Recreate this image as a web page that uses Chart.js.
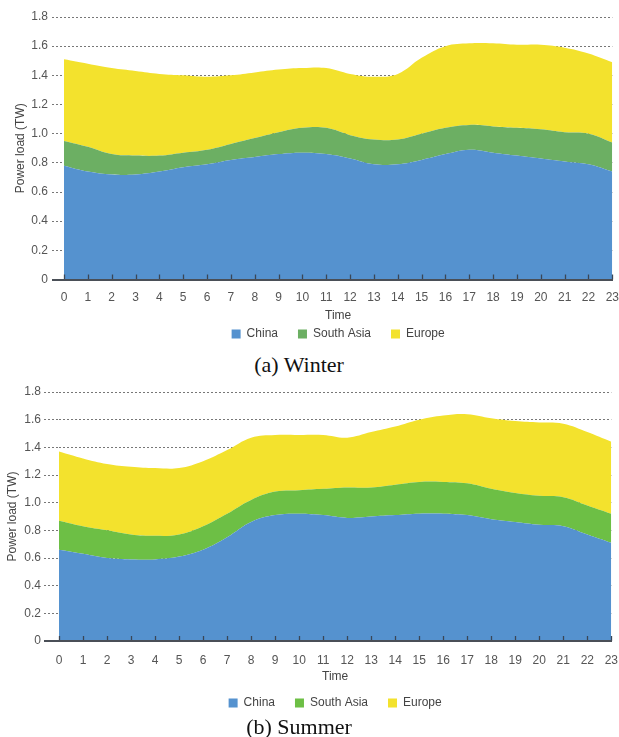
<!DOCTYPE html>
<html>
<head>
<meta charset="utf-8">
<script src="https://cdn.jsdelivr.net/npm/chart.js@4"></script>
<style>
  html, body { margin: 0; padding: 0; background: #fff; overflow: hidden; width: 619px; height: 737px; }
  .wrap { position: absolute; left: 0; }
  .cap { position: absolute; left: 0; width: 598px; text-align: center; font-family: 'Liberation Serif', 'Times New Roman', serif; font-size: 22px; color: #111; line-height: 26px; }
</style>
</head>
<body>
<div class="wrap" id="w1" style="top:0px;width:630px;height:350px"><canvas id="c1"></canvas></div>
<div class="cap" style="top:352px">(a) Winter</div>
<div class="wrap" id="w2" style="top:375px;width:630px;height:344px"><canvas id="c2"></canvas></div>
<div class="cap" style="top:714px">(b) Summer</div>
<script>
// ---- data ----
const hours = ['0','1','2','3','4','5','6','7','8','9','10','11','12','13','14','15','16','17','18','19','20','21','22','23'];
const seriesNames = ['China', 'South Asia', 'Europe'];

const winterChina     = [0.78,0.74,0.72,0.72,0.74,0.77,0.79,0.82,0.84,0.86,0.87,0.86,0.83,0.79,0.79,0.82,0.86,0.89,0.87,0.85,0.83,0.81,0.79,0.74];
const winterSouthAsia = [0.17,0.17,0.14,0.13,0.11,0.10,0.10,0.11,0.13,0.15,0.17,0.18,0.16,0.17,0.17,0.18,0.18,0.17,0.18,0.19,0.20,0.20,0.21,0.20];
const winterEurope    = [0.56,0.57,0.59,0.58,0.56,0.53,0.50,0.47,0.45,0.43,0.41,0.41,0.42,0.43,0.45,0.52,0.56,0.56,0.57,0.57,0.58,0.58,0.55,0.55];

const summerChina     = [0.66,0.63,0.60,0.59,0.59,0.61,0.66,0.75,0.86,0.91,0.92,0.91,0.89,0.90,0.91,0.92,0.92,0.91,0.88,0.86,0.84,0.83,0.77,0.71];
const summerSouthAsia = [0.21,0.20,0.20,0.18,0.17,0.16,0.17,0.17,0.16,0.17,0.17,0.19,0.22,0.21,0.22,0.23,0.23,0.23,0.22,0.21,0.21,0.21,0.21,0.21];
const summerEurope    = [0.50,0.49,0.48,0.49,0.49,0.48,0.47,0.46,0.45,0.41,0.40,0.39,0.36,0.40,0.42,0.45,0.48,0.50,0.51,0.52,0.53,0.53,0.53,0.52];

const yMax = 1.8;
const yStep = 0.2;

// ---- styling ----
Chart.defaults.font.family = "'Liberation Sans', Arial, Helvetica, sans-serif";
Chart.defaults.font.size = 12;
Chart.defaults.color = '#555';

const upTicks = {
  id: 'upTicks',
  afterDatasetsDraw(chart) {
    const xs = chart.scales.x;
    const ctx = chart.ctx;
    const b = chart.chartArea.bottom;
    ctx.save();
    ctx.strokeStyle = '#3a4656';
    ctx.lineWidth = 1.3;
    xs.ticks.forEach((t, i) => {
      const px = Math.round(xs.getPixelForTick(i)) + 0.5;
      ctx.beginPath();
      ctx.moveTo(px, b);
      ctx.lineTo(px, b - 5);
      ctx.stroke();
    });
    ctx.restore();
  }
};

function makeChart(id, values, colors, g) {
  const datasets = values.map((v, i) => ({
    label: seriesNames[i],
    data: v,
    backgroundColor: colors[i],
    borderColor: colors[i],
    borderWidth: 0,
    pointRadius: 0,
    pointHoverRadius: 0,
    fill: i === 0 ? 'origin' : '-1',
    tension: 0.4
  }));
  return new Chart(document.getElementById(id), {
    type: 'line',
    data: { labels: hours, datasets },
    plugins: [upTicks],
    options: {
      responsive: true,
      maintainAspectRatio: false,
      animation: false,
      layout: { padding: { left: 0, right: g.padRight, top: g.padTop, bottom: 0 } },
      plugins: {
        legend: {
          position: 'bottom',
          fullSize: false,
          labels: { boxWidth: 9, boxHeight: 9, padding: 20, color: '#444', font: { size: 12 } }
        },
        tooltip: { enabled: false }
      },
      scales: {
        x: {
          type: 'category',
          offset: false,
          grid: { display: false, drawTicks: false },
          border: { display: true, color: '#4a4f57', width: 2, z: 1 },
          ticks: { autoSkip: false, maxRotation: 0, padding: g.xTickPad, color: '#555' },
          title: { display: true, text: 'Time', color: '#444', padding: { top: 0, bottom: g.xTitlePadB } },
          afterFit: (s) => { s.height = g.xHeight; }
        },
        y: {
          stacked: true,
          min: 0,
          max: yMax,
          ticks: {
            stepSize: yStep,
            padding: g.yTickPad,
            color: '#555',
            callback: (v) => (Math.abs(v) < 1e-9 ? '0' : Number(v).toFixed(1))
          },
          grid: {
            color: (c) => (c.tick && Math.abs(c.tick.value) < 1e-9 ? '#4a4f57' : '#777'),
            lineWidth: (c) => (c.tick && Math.abs(c.tick.value) < 1e-9 ? 2 : 1),
            tickLength: g.yTickLen,
            tickColor: (c) => (c.tick && Math.abs(c.tick.value) < 1e-9 ? '#4a4f57' : '#777'),
            tickWidth: (c) => (c.tick && Math.abs(c.tick.value) < 1e-9 ? 2 : 1),
            tickBorderDash: (c) => (c.tick && Math.abs(c.tick.value) < 1e-9 ? [] : [2, 2])
          },
          border: {
            display: false,
            dash: (c) => (c.tick && Math.abs(c.tick.value) < 1e-9 ? [] : [2, 2])
          },
          title: { display: true, text: 'Power load (TW)', color: '#444', padding: { top: g.yTitlePad, bottom: 0 } },
          afterFit: (s) => { s.width = g.yWidth; }
        }
      }
    }
  });
}

makeChart('c1', [winterChina, winterSouthAsia, winterEurope],
  ['#5592cf', '#6caf63', '#f3e22d'],
  { padRight: 16, padTop: 17, xHeight: 28.5, xTickPad: 11, xTitlePadB: -15, yTickPad: 4, yTickLen: 12, yTitlePad: 13, yWidth: 64 });

makeChart('c2', [summerChina, summerSouthAsia, summerEurope],
  ['#5592cf', '#6dbf45', '#f3e22d'],
  { padRight: 15, padTop: 17, xHeight: 36, xTickPad: 12, xTitlePadB: -7, yTickPad: 3, yTickLen: 15, yTitlePad: 5, yWidth: 59 });
</script>
</body>
</html>
